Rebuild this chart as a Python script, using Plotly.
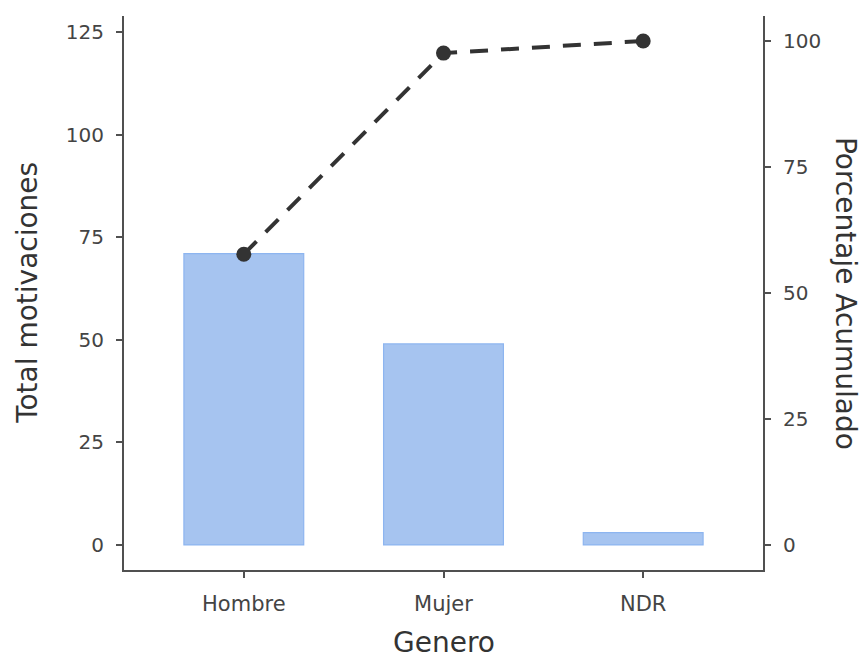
import plotly.graph_objects as go

# Data
categorias = ["Hombre", "Mujer", "NDR"]
total_motivaciones = [71, 49, 3]
porcentaje_acumulado = [57.7, 97.6, 100.0]

left_ticks = [0, 25, 50, 75, 100, 125]
right_ticks = [0, 25, 50, 75, 100]

FONT = "DejaVu Sans"
AXIS_COLOR = "#505050"

fig = go.Figure()

fig.add_trace(go.Bar(
    x=categorias,
    y=total_motivaciones,
    width=0.6,
    marker=dict(color="#a6c4f0", line=dict(color="#8db5f0", width=1.2)),
    yaxis="y",
    showlegend=False,
))

fig.add_trace(go.Scatter(
    x=categorias,
    y=porcentaje_acumulado,
    mode="lines+markers",
    line=dict(color="#333333", width=4, dash="18px,13px"),
    marker=dict(color="#333333", size=15),
    yaxis="y2",
    showlegend=False,
))

tick_font = dict(family=FONT, size=20, color="#444444")
xtick_font = dict(family=FONT, size=21, color="#444444")
title_font = dict(family=FONT, size=28, color="#333333")

common_axis = dict(
    showline=True, linecolor=AXIS_COLOR, linewidth=2,
    ticks="outside", ticklen=6, tickwidth=2, tickcolor=AXIS_COLOR,
    ticklabelstandoff=8,
    showgrid=False, zeroline=False,
)

fig.update_layout(
    width=864,
    height=662,
    margin=dict(l=124, r=101, t=16, b=92),
    paper_bgcolor="white",
    plot_bgcolor="white",
    xaxis=dict(range=[-0.6, 2.6], tickfont=xtick_font, **common_axis),
    yaxis=dict(range=[-6.1, 128.9], tickvals=left_ticks, tickfont=tick_font, **common_axis),
    yaxis2=dict(
        range=[-4.96, 104.96], tickvals=right_ticks, tickfont=tick_font,
        overlaying="y", side="right", **common_axis,
    ),
)

# Axis titles
fig.add_annotation(
    text="Genero", xref="paper", yref="paper", x=0.5, y=-0.165,
    showarrow=False, font=title_font, xanchor="center", yanchor="bottom",
)
fig.add_annotation(
    text="Total motivaciones", xref="paper", yref="paper", x=-0.152, y=0.5,
    textangle=-90, showarrow=False, font=title_font,
    xanchor="center", yanchor="middle",
)
fig.add_annotation(
    text="Porcentaje Acumulado", xref="paper", yref="paper", x=1.13, y=0.5,
    textangle=90, showarrow=False, font=title_font,
    xanchor="center", yanchor="middle",
)

fig.write_html("out.html")
